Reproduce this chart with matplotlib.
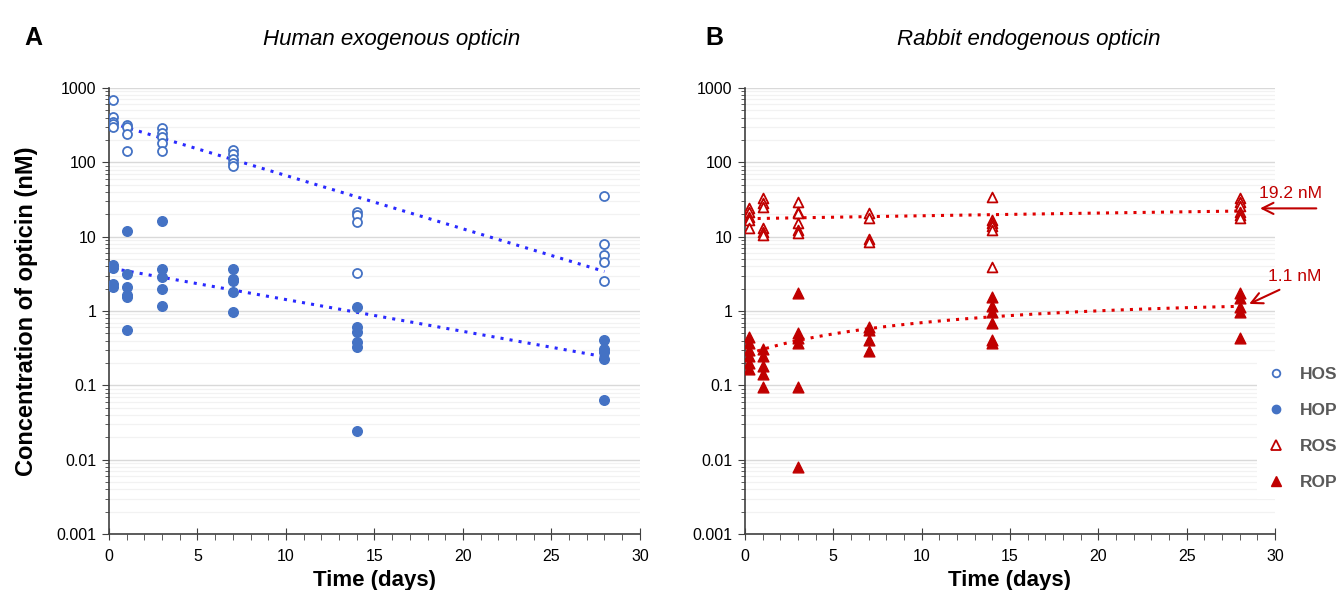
import numpy as np
import matplotlib.pyplot as plt
from matplotlib.lines import Line2D
from matplotlib.ticker import LogLocator, MultipleLocator, FixedFormatter

plt.rcParams['font.family'] = ['Liberation Sans', 'DejaVu Sans']

# human exogenous opticin
hos_days = [0.2]*5 + [1]*4 + [3]*5 + [7]*5 + [14]*4 + [28]*5
hos_nm = [690, 404, 352, 327, 301,
          318, 301, 240, 141,
          287, 246, 221, 184, 141,
          146, 129, 110, 99, 89,
          21.6, 19.5, 15.9, 3.2,
          35.5, 7.9, 5.65, 4.6, 2.5]
hop_days = [0.2]*4 + [1]*6 + [3]*5 + [7]*5 + [14]*6 + [28]*5
hop_nm = [4.15, 3.8, 2.3, 2.1,
          11.9, 3.14, 2.1, 1.64, 1.52, 0.55,
          16.2, 3.7, 2.88, 1.97, 1.16,
          3.7, 2.71, 2.55, 1.82, 0.98,
          1.13, 0.6, 0.52, 0.38, 0.33, 0.024,
          0.41, 0.31, 0.28, 0.224, 0.063]
# exponential trend lines (start / end)
trend_days = [0.2, 28]
hos_trend_nm = [335, 3.4]
hop_trend_nm = [3.74, 0.242]

# rabbit endogenous opticin
ros_days = [0.2]*5 + [1]*6 + [3]*6 + [7]*4 + [14]*6 + [28]*6
ros_nm = [24, 21.6, 18.5, 16.7, 12.9,
          32.7, 28.6, 25.3, 12.9, 11.7, 10.5,
          29.5, 21.6, 20.6, 15.1, 12.3, 11.1,
          21, 18, 9.2, 8.6,
          34.4, 16.7, 15.1, 13.7, 12.3, 3.94,
          33.5, 29.5, 25.5, 21.6, 19.5, 17.7]
rop_days = [0.2]*6 + [1]*5 + [3]*6 + [7]*4 + [14]*6 + [28]*5
rop_nm = [0.45, 0.37, 0.30, 0.25, 0.20, 0.167,
          0.31, 0.25, 0.18, 0.14, 0.094,
          1.73, 0.5, 0.43, 0.37, 0.096, 0.0079,
          0.6, 0.55, 0.41, 0.29,
          1.56, 1.15, 0.98, 0.68, 0.41, 0.37,
          1.73, 1.48, 1.14, 0.98, 0.43]

y_ticks = [0.001, 0.01, 0.1, 1, 10, 100, 1000]
y_labels = ['0.001', '0.01', '0.1', '1', '10', '100', '1000']

blue = '#4472C4'
red = '#C00000'

fig = plt.figure(figsize=(13.44, 5.9), dpi=100)
axA = fig.add_axes([0.0811, 0.0949, 0.395, 0.756])
axB = fig.add_axes([0.5543, 0.0949, 0.3943, 0.756])


def style(ax):
    ax.set_yscale('log')
    ax.set_ylim(0.001, 1000)
    ax.set_xlim(0, 30)
    ax.set_yticks(y_ticks)
    ax.yaxis.set_major_formatter(FixedFormatter(y_labels))
    ax.yaxis.set_minor_locator(LogLocator(base=10, subs=np.arange(2, 10)))
    ax.xaxis.set_major_locator(MultipleLocator(5))
    ax.xaxis.set_minor_locator(MultipleLocator(1))
    ax.grid(True, which='major', axis='y', color='#d9d9d9', lw=1)
    ax.grid(True, which='minor', axis='y', color='#f2f2f2', lw=0.9)
    ax.set_axisbelow(True)
    for s in ['top', 'right']:
        ax.spines[s].set_visible(False)
    for s in ['left', 'bottom']:
        ax.spines[s].set_color('#404040')
        ax.spines[s].set_linewidth(1.2)
    ax.tick_params(axis='y', which='major', length=5, color='#404040', labelsize=11.5, pad=4)
    ax.tick_params(axis='y', which='minor', length=3, color='#404040', labelleft=False)
    ax.tick_params(axis='x', which='major', direction='inout', length=8, color='#404040',
                   labelsize=11.5, pad=7)
    ax.tick_params(axis='x', which='minor', direction='out', length=4, color='#404040')
    ax.set_xlabel('Time (days)', fontsize=16, fontweight='bold', labelpad=4)


style(axA)
style(axB)

axA.plot(trend_days, hos_trend_nm, ls=(0, (1, 2)), color='#2a2aff', lw=2.2, zorder=2)
axA.plot(trend_days, hop_trend_nm, ls=(0, (1, 2)), color='#2a2aff', lw=2.2, zorder=2)

axA.scatter(hos_days, hos_nm, s=42, facecolors='white', edgecolors=blue, linewidths=1.3, zorder=3)
axA.scatter(hop_days, hop_nm, s=48, color=blue, zorder=3)

# trend lines (rabbit)
d = np.array(ros_days)
p = np.polyfit(d, ros_nm, 1)
xs = np.linspace(d.min(), d.max(), 100)
axB.plot(xs, np.polyval(p, xs), ls=(0, (1, 2)), color='#e00000', lw=2.2, zorder=2)
d = np.array(rop_days)
p = np.polyfit(d, rop_nm, 2)
xs = np.linspace(d.min(), d.max(), 100)
axB.plot(xs, np.polyval(p, xs), ls=(0, (1, 2)), color='#e00000', lw=2.2, zorder=2)

axB.scatter(ros_days, ros_nm, s=50, marker='^', facecolors='white', edgecolors=red, linewidths=1.3, zorder=3)
axB.scatter(rop_days, rop_nm, s=60, marker='^', color=red, zorder=3)

axA.set_ylabel('Concentration of opticin (nM)', fontsize=17, fontweight='bold', labelpad=13)

axA.set_title('Human exogenous opticin', fontsize=16, style='italic', pad=31, x=0.533)
axB.set_title('Rabbit endogenous opticin', fontsize=16, style='italic', pad=31, x=0.536)
fig.text(0.018, 0.935, 'A', fontsize=18, fontweight='bold', va='center')
fig.text(0.525, 0.935, 'B', fontsize=18, fontweight='bold', va='center')

# annotations
axB.annotate('', xy=(29.0, 24.0), xytext=(32.5, 24.0), annotation_clip=False,
             arrowprops=dict(arrowstyle='->', color=red, lw=1.5, mutation_scale=20))
axB.text(30.9, 38.5, '19.2 nM', color=red, fontsize=12.5, ha='center', va='center', clip_on=False)
axB.annotate('', xy=(28.4, 1.2), xytext=(30.4, 2.0), annotation_clip=False,
             arrowprops=dict(arrowstyle='->', color=red, lw=1.5, mutation_scale=20))
axB.text(31.1, 2.95, '1.1 nM', color=red, fontsize=12.5, ha='center', va='center', clip_on=False)

handles = [
    Line2D([], [], ls='none', marker='o', mfc='white', mec=blue, mew=1.3, ms=5.5),
    Line2D([], [], ls='none', marker='o', color=blue, ms=6),
    Line2D([], [], ls='none', marker='^', mfc='white', mec=red, mew=1.3, ms=6.5),
    Line2D([], [], ls='none', marker='^', color=red, ms=7),
]
leg = fig.legend(handles, ['HOS', 'HOP', 'ROS', 'ROP'], loc='center left',
                 bbox_to_anchor=(0.9285, 0.274), frameon=True, fancybox=False,
                 edgecolor='none', facecolor='white', framealpha=1,
                 prop={'weight': 'bold', 'size': 12.5}, labelspacing=1.2,
                 handletextpad=0.8, handlelength=1.2, borderpad=0.5)
for t in leg.get_texts():
    t.set_color('#595959')

fig.savefig('out.png', dpi=100)
